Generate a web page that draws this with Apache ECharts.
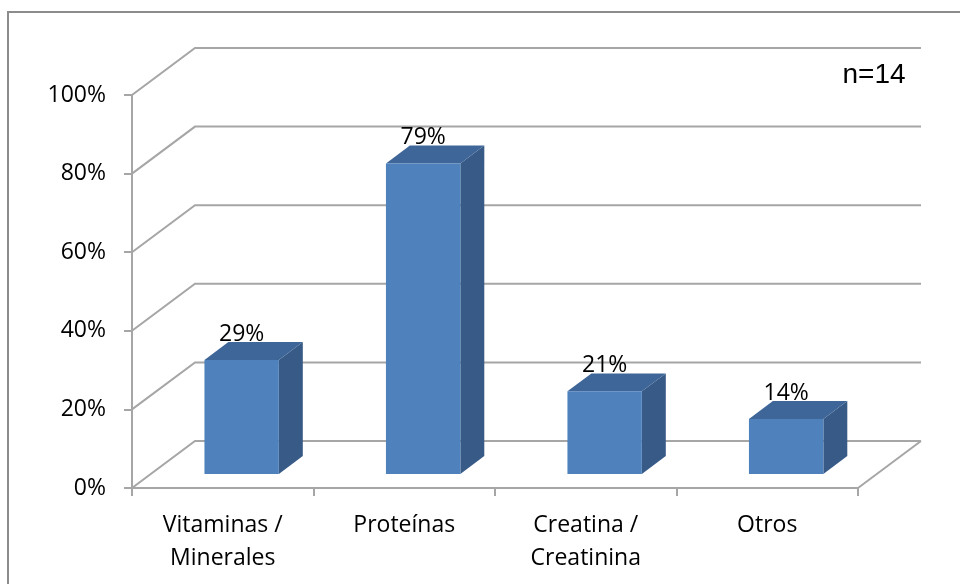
<!DOCTYPE html>
<html>
<head>
<meta charset="utf-8">
<script src="https://cdn.jsdelivr.net/npm/echarts@6/dist/echarts.min.js"></script>
<style>
  html, body { margin: 0; padding: 0; background: #ffffff; }
  #chart { width: 960px; height: 584px; }
</style>
</head>
<body>
<div id="chart"></div>
<script>
// Suplementos consumidos (% de deportistas, n=14)
const categories = ['Vitaminas /\nMinerales', 'Proteínas', 'Creatina /\nCreatinina', 'Otros'];
const percentages = [29, 79, 21, 14];
const yTicks = [0, 20, 40, 60, 80, 100];
const sampleNote = 'n=14';

// Oblique depth of the 3D box (pixels from front plane to back wall)
const DEPTH_X = 63;
const DEPTH_Y = -47;
const BAR_FRONT = 0.30;   // bar front face, fraction of depth
const BAR_BACK = 0.68;    // bar back face, fraction of depth
const BAR_WIDTH = 0.41;   // fraction of a category band

const GRID_COLOR = '#a6a6a6';
const TEXT_FONT = '"Open Sans", Lato, sans-serif';
const TEXT_SIZE = 23;

const chart = echarts.init(document.getElementById('chart'), null, { renderer: 'canvas' });

function wallLines(params, api) {
  const v = api.value(0);
  const cs = params.coordSys;
  const p = api.coord([0, v]);
  const y = p[1];
  const x0 = cs.x;
  const x1 = cs.x + cs.width;
  const children = [{
    type: 'polyline',
    shape: { points: [[x0, y], [x0 + DEPTH_X, y + DEPTH_Y], [x1 + DEPTH_X, y + DEPTH_Y]] },
    style: { stroke: GRID_COLOR, lineWidth: 2, fill: null }
  }];
  if (v === 0) {
    children.push({
      type: 'line',
      shape: { x1: x1, y1: y, x2: x1 + DEPTH_X, y2: y + DEPTH_Y },
      style: { stroke: GRID_COLOR, lineWidth: 2 }
    });
  }
  return { type: 'group', children: children };
}

function bar3d(params, api) {
  const idx = api.value(0);
  const val = api.value(1);
  const base = api.coord([idx, 0]);
  const top = api.coord([idx, val]);
  const bw = api.size([1, 0])[0] * BAR_WIDTH;
  const left = base[0] - bw / 2 + BAR_FRONT * DEPTH_X;
  const right = left + bw;
  const bottomY = base[1] + BAR_FRONT * DEPTH_Y;
  const topY = top[1] + BAR_FRONT * DEPTH_Y;
  const bdx = (BAR_BACK - BAR_FRONT) * DEPTH_X;
  const bdy = (BAR_BACK - BAR_FRONT) * DEPTH_Y;
  return {
    type: 'group',
    children: [
      {
        type: 'polygon',
        shape: { points: [[right, topY], [right + bdx, topY + bdy], [right + bdx, bottomY + bdy], [right, bottomY]] },
        style: { fill: '#385a87' }
      },
      {
        type: 'polygon',
        shape: { points: [[left, topY], [right, topY], [right + bdx, topY + bdy], [left + bdx, topY + bdy]] },
        style: { fill: '#3e6698' }
      },
      {
        type: 'rect',
        shape: { x: left, y: topY, width: bw, height: bottomY - topY },
        style: { fill: '#4f81bd' }
      },
      {
        type: 'text',
        x: (left + right) / 2,
        y: topY + bdy - 8,
        style: {
          text: Math.round(val) + '%',
          fill: '#000000',
          font: TEXT_SIZE + 'px ' + TEXT_FONT,
          textAlign: 'center',
          textVerticalAlign: 'middle'
        }
      }
    ]
  };
}

const option = {
  animation: false,
  backgroundColor: '#ffffff',
  grid: { left: 132, right: 102, top: 95, bottom: 96, containLabel: false },
  xAxis: {
    type: 'category',
    data: categories,
    boundaryGap: true,
    axisLine: { show: true, lineStyle: { color: GRID_COLOR, width: 2 } },
    axisTick: { show: true, length: 8, alignWithLabel: false, lineStyle: { color: GRID_COLOR, width: 2 } },
    axisLabel: {
      margin: 21,
      color: '#000000',
      fontFamily: TEXT_FONT,
      fontSize: TEXT_SIZE,
      lineHeight: 33
    },
    splitLine: { show: false }
  },
  yAxis: {
    type: 'value',
    min: 0,
    max: 100,
    interval: 20,
    axisLine: { show: true, lineStyle: { color: GRID_COLOR, width: 2 } },
    axisTick: { show: true, length: 8, lineStyle: { color: GRID_COLOR, width: 2 } },
    axisLabel: {
      margin: 26,
      color: '#000000',
      fontFamily: TEXT_FONT,
      fontSize: TEXT_SIZE,
      formatter: function (v) { return v + '%'; }
    },
    splitLine: { show: false }
  },
  graphic: [
    {
      type: 'rect',
      shape: { x: 8, y: 12, width: 1000, height: 700 },
      style: { fill: null, stroke: '#8c8c8c', lineWidth: 2 },
      z: 0,
      silent: true
    },
    {
      type: 'text',
      x: 874,
      y: 75,
      style: {
        text: sampleNote,
        fill: '#000000',
        font: '28px "Liberation Sans", Arial, sans-serif',
        textAlign: 'center',
        textVerticalAlign: 'middle'
      },
      z: 10
    }
  ],
  series: [
    {
      type: 'custom',
      name: 'pared',
      renderItem: wallLines,
      data: yTicks.map(function (t) { return [t]; }),
      encode: { y: 0 },
      z: 1,
      silent: true
    },
    {
      type: 'custom',
      name: 'Suplementos',
      renderItem: bar3d,
      data: percentages.map(function (p, i) { return [i, p]; }),
      encode: { x: 0, y: 1 },
      z: 3
    }
  ]
};

chart.setOption(option);
</script>
</body>
</html>
